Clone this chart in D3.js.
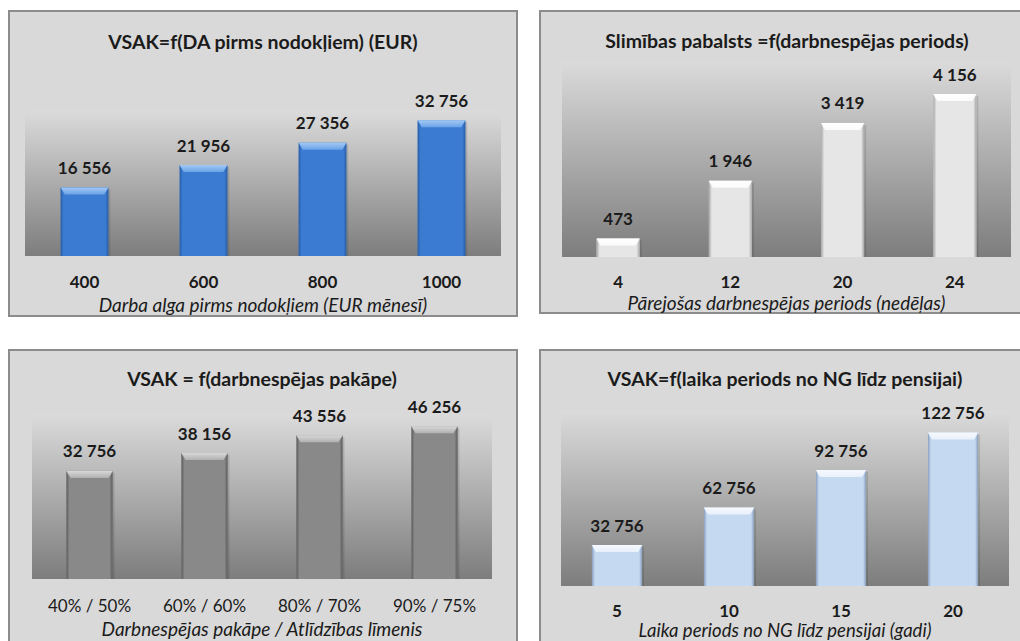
<!DOCTYPE html>
<html>
<head>
<meta charset="utf-8">
<script src="https://cdn.jsdelivr.net/npm/d3@7"></script>
<style>
  html, body { margin: 0; padding: 0; background: #ffffff; }
  svg { display: block; }
  text { font-family: Lato, "Open Sans", sans-serif; fill: #1b1b1b; }
</style>
</head>
<body>
<svg id="chart" width="1020" height="641"></svg>
<script>
// --- data -------------------------------------------------------------
const wageTitle = "VSAK=f(DA pirms nodokļiem) (EUR)";
const wageCategories = ["400", "600", "800", "1000"];
const wageValues = [16556, 21956, 27356, 32756];
const wageAxisTitle = "Darba alga pirms nodokļiem (EUR mēnesī)";
const wageAxisMax = 35000;

const sickTitle = "Slimības pabalsts =f(darbnespējas periods)";
const sickCategories = ["4", "12", "20", "24"];
const sickValues = [473, 1946, 3419, 4156];
const sickAxisTitle = "Pārejošas darbnespējas periods (nedēļas)";
const sickAxisMax = 5000;

const degreeTitle = "VSAK = f(darbnespējas pakāpe)";
const degreeCategories = ["40% / 50%", "60% / 60%", "80% / 70%", "90% / 75%"];
const degreeValues = [32756, 38156, 43556, 46256];
const degreeAxisTitle = "Darbnespējas pakāpe / Atlīdzības līmenis";
const degreeAxisMax = 50000;

const periodTitle = "VSAK=f(laika periods no NG līdz pensijai)";
const periodCategories = ["5", "10", "15", "20"];
const periodValues = [32756, 62756, 92756, 122756];
const periodAxisTitle = "Laika periods no NG līdz pensijai (gadi)";
const periodAxisMax = 140000;

// --- layout and style of each panel ------------------------------------
const panels = [
  { title: wageTitle, cats: wageCategories, vals: wageValues, axisTitle: wageAxisTitle, max: wageAxisMax,
    box: [9, 11, 508, 305], plot: [25, 501, 256], plotH: 145, pad: 0.6,
    titleX: 263, titleY: 41, catY: 281, axisY: 304, catBold: true, axisSize: 19,
    fill: ["#3b7bd2", "#6aa3e8", "#2a5ea6", "#a2c8f4"] },
  { title: sickTitle, cats: sickCategories, vals: sickValues, axisTitle: sickAxisTitle, max: sickAxisMax,
    box: [540, 11, 490, 302], plot: [562, 1011, 257], plotH: 196, pad: 0.617,
    titleX: 787, titleY: 40, catY: 281, axisY: 302, catBold: true, axisSize: 19,
    fill: ["#e6e6e6", "#fbfbfb", "#a6a6a6", "#ffffff"] },
  { title: degreeTitle, cats: degreeCategories, vals: degreeValues, axisTitle: degreeAxisTitle, max: degreeAxisMax,
    box: [9, 350, 508, 300], plot: [32, 492, 579], plotH: 165, pad: 0.6,
    titleX: 262, titleY: 378, catY: 605, axisY: 628, catBold: false, axisSize: 19,
    fill: ["#898989", "#b0b0b0", "#5c5c5c", "#d8d8d8"] },
  { title: periodTitle, cats: periodCategories, vals: periodValues, axisTitle: periodAxisTitle, max: periodAxisMax,
    box: [540, 350, 490, 300], plot: [561, 1009, 586], plotH: 175, pad: 0.553,
    titleX: 785, titleY: 378, catY: 610, axisY: 630, catBold: true, axisSize: 18.5,
    fill: ["#c5d9f1", "#e8f0fb", "#889fbe", "#f6f9fd"] }
];

const fmt = d3.formatLocale({ decimal: ",", thousands: " ", grouping: [3], currency: ["", ""] }).format(",d");

const svg = d3.select("#chart");
const defs = svg.append("defs");

// plot-area backdrop: light at the top, dark grey at the baseline
const bg = defs.append("linearGradient").attr("id", "plotBg")
  .attr("x1", 0).attr("y1", 0).attr("x2", 0).attr("y2", 1);
bg.append("stop").attr("offset", "0%").attr("stop-color", "#dbdbdb");
bg.append("stop").attr("offset", "100%").attr("stop-color", "#7d7d7d");

panels.forEach((p, i) => {
  const g = svg.append("g");
  const [bx, by, bw, bh] = p.box;
  const [x0, x1, base] = p.plot;

  g.append("rect")
    .attr("x", bx).attr("y", by).attr("width", bw).attr("height", bh)
    .attr("fill", "#d9d9d9").attr("stroke", "#8c8c8c").attr("stroke-width", 2);

  const x = d3.scaleBand().domain(p.cats).range([x0, x1])
    .paddingInner(p.pad).paddingOuter(p.pad / 2);
  // the value axis spans the plot height; its top is where the axis maximum sits
  const y = d3.scaleLinear().domain([0, p.max]).range([base, base - p.plotH]);

  g.append("rect")
    .attr("x", x0).attr("y", y(p.max)).attr("width", x1 - x0).attr("height", base - y(p.max))
    .attr("fill", "url(#plotBg)");

  // per-panel bevel gradients
  const topId = "bevTop" + i, sideL = "bevL" + i, sideR = "bevR" + i;
  const tg = defs.append("linearGradient").attr("id", topId).attr("x1", 0).attr("y1", 0).attr("x2", 0).attr("y2", 1);
  tg.append("stop").attr("offset", "0%").attr("stop-color", p.fill[3]);
  tg.append("stop").attr("offset", "100%").attr("stop-color", p.fill[1]);
  const lg = defs.append("linearGradient").attr("id", sideL).attr("x1", 0).attr("y1", 0).attr("x2", 1).attr("y2", 0);
  lg.append("stop").attr("offset", "0%").attr("stop-color", p.fill[2]);
  lg.append("stop").attr("offset", "100%").attr("stop-color", p.fill[0]);
  const rg = defs.append("linearGradient").attr("id", sideR).attr("x1", 0).attr("y1", 0).attr("x2", 1).attr("y2", 0);
  rg.append("stop").attr("offset", "0%").attr("stop-color", p.fill[0]);
  rg.append("stop").attr("offset", "100%").attr("stop-color", p.fill[2]);

  const bars = g.selectAll("g.bar").data(p.vals).join("g").attr("class", "bar");
  const bw2 = x.bandwidth();
  const edge = 3, lip = 7;

  // soft shadow to the right of each bar
  bars.append("rect")
    .attr("x", (d, j) => x(p.cats[j]) + 2).attr("y", d => y(d) + 2)
    .attr("width", bw2).attr("height", d => base - y(d) - 2)
    .attr("fill", "#000").attr("opacity", 0.12);

  bars.append("rect")
    .attr("x", (d, j) => x(p.cats[j])).attr("y", d => y(d))
    .attr("width", bw2).attr("height", d => base - y(d))
    .attr("fill", p.fill[0]);

  bars.append("polygon").attr("fill", `url(#${sideL})`)
    .attr("points", (d, j) => {
      const l = x(p.cats[j]), t = y(d);
      return [[l, t], [l + edge, t + lip], [l + edge, base], [l, base]].join(" ");
    });
  bars.append("polygon").attr("fill", `url(#${sideR})`)
    .attr("points", (d, j) => {
      const r = x(p.cats[j]) + bw2, t = y(d);
      return [[r, t], [r - edge, t + lip], [r - edge, base], [r, base]].join(" ");
    });
  bars.append("polygon").attr("fill", `url(#${topId})`)
    .attr("points", (d, j) => {
      const l = x(p.cats[j]), r = l + bw2, t = y(d);
      return [[l, t], [r, t], [r - edge - 1, t + lip], [l + edge + 1, t + lip]].join(" ");
    });

  // value labels
  g.selectAll("text.val").data(p.vals).join("text").attr("class", "val")
    .attr("x", (d, j) => x(p.cats[j]) + bw2 / 2)
    .attr("y", d => y(d) - 20)
    .attr("text-anchor", "middle").attr("dominant-baseline", "central")
    .attr("font-size", 17).attr("font-weight", "bold")
    .text(d => fmt(d));

  // category labels
  g.selectAll("text.cat").data(p.cats).join("text").attr("class", "cat")
    .attr("x", d => x(d) + bw2 / 2).attr("y", p.catY)
    .attr("text-anchor", "middle").attr("dominant-baseline", "central")
    .attr("font-size", 17).attr("font-weight", p.catBold ? "bold" : "normal")
    .text(d => d);

  // chart title
  g.append("text")
    .attr("x", p.titleX).attr("y", p.titleY)
    .attr("text-anchor", "middle").attr("dominant-baseline", "central")
    .attr("font-size", 19.5).attr("font-weight", "bold")
    .text(p.title);

  // axis title
  g.append("text")
    .attr("x", (x0 + x1) / 2).attr("y", p.axisY)
    .attr("text-anchor", "middle").attr("dominant-baseline", "central")
    .attr("font-size", p.axisSize).attr("font-style", "italic")
    .text(p.axisTitle);
});
</script>
</body>
</html>
